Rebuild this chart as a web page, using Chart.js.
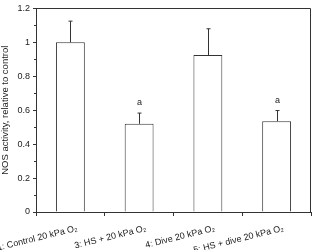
<!DOCTYPE html>
<html>
<head>
<meta charset="utf-8">
<script src="https://cdn.jsdelivr.net/npm/chart.js@4"></script>
<style>
  html, body { margin: 0; padding: 0; background: #fff; }
  #wrap { width: 312px; height: 250px; }
</style>
</head>
<body>
<div id="wrap"><canvas id="nos-chart"></canvas></div>
<script>
// groups along the x axis
const groups = ['1: Control 20 kPa O\u2082', '3: HS + 20 kPa O\u2082', '4: Dive 20 kPa O\u2082', '5: HS + dive 20 kPa O\u2082'];
// mean NOS activity relative to control
const nosMean = [1.0, 0.52, 0.925, 0.535];
// upper error (SD / SEM)
const nosErr = [0.125, 0.063, 0.155, 0.063];
// significance marks above bars
const sigMarks = ['', 'a', '', 'a'];
const yTicks = [0, 0.2, 0.4, 0.6, 0.8, 1, 1.2];

const lineCol = '#333';
const fontFam = '"Liberation Sans", Arial, sans-serif';

// error bars, letters, frame and minor ticks
const extras = {
    id: 'extras',
    afterDatasetsDraw(chart) {
        let ctx = chart.ctx;
        let y = chart.scales.y;
        let area = chart.chartArea;
        let meta = chart.getDatasetMeta(0);
        ctx.save();
        ctx.strokeStyle = lineCol;
        ctx.lineWidth = 1;
        meta.data.forEach((bar, i) => {
            let x = Math.round(bar.x) + 0.5;
            let y0 = y.getPixelForValue(nosMean[i]);
            let y1 = y.getPixelForValue(nosMean[i] + nosErr[i]);
            ctx.beginPath();
            ctx.moveTo(x, y0);
            ctx.lineTo(x, y1);
            ctx.moveTo(x - 2, y1);
            ctx.lineTo(x + 2, y1);
            ctx.stroke();
            if (sigMarks[i]) {
                ctx.fillStyle = '#222';
                ctx.font = '9px ' + fontFam;
                ctx.textAlign = 'center';
                ctx.textBaseline = 'bottom';
                ctx.fillText(sigMarks[i], x, y1 - 6);
            }
        });
        // top + right frame
        ctx.beginPath();
        ctx.moveTo(area.left, Math.round(area.top) + 0.5);
        ctx.lineTo(Math.round(area.right) - 0.5, Math.round(area.top) + 0.5);
        ctx.lineTo(Math.round(area.right) - 0.5, area.bottom);
        ctx.stroke();
        // minor ticks
        for (let v = 0.1; v < 1.2; v += 0.2) {
            let py = Math.round(y.getPixelForValue(v)) + 0.5;
            ctx.beginPath();
            ctx.moveTo(area.left - 2, py);
            ctx.lineTo(area.left, py);
            ctx.stroke();
        }
        ctx.restore();
    }
};

new Chart(document.getElementById('nos-chart'), {
    type: 'bar',
    data: {
        labels: groups,
        datasets: [{
            label: 'NOS activity',
            data: nosMean,
            backgroundColor: '#fff',
            borderColor: lineCol,
            borderWidth: 1,
            barPercentage: 0.42,
            categoryPercentage: 1.0
        }]
    },
    options: {
        responsive: true,
        maintainAspectRatio: false,
        animation: false,
        layout: { padding: { top: -2, right: 1, bottom: 0, left: 0 } },
        plugins: {
            legend: { display: false },
            tooltip: { enabled: false }
        },
        scales: {
            x: {
                offset: true,
                grid: { display: true, drawOnChartArea: false, offset: true, tickLength: 4, color: lineCol },
                border: { color: lineCol },
                ticks: {
                    color: '#222',
                    font: { size: 9, family: fontFam },
                    minRotation: 14,
                    maxRotation: 14,
                    padding: 7,
                    labelOffset: 7,
                    autoSkip: false
                },
                afterFit(scale) {
                    scale.paddingLeft = 0;
                    scale.paddingRight = 0;
                    scale.height = 38;
                }
            },
            y: {
                min: 0,
                max: 1.2,
                afterBuildTicks(scale) {
                    scale.ticks = yTicks.map(v => ({ value: v }));
                },
                grid: { display: true, drawOnChartArea: false, tickLength: 3, color: lineCol },
                border: { color: lineCol },
                ticks: {
                    color: '#222',
                    font: { size: 9, family: fontFam },
                    padding: 3,
                    callback: v => String(v)
                },
                title: {
                    display: true,
                    text: 'NOS activity, relative to control',
                    color: '#222',
                    font: { size: 9.5, family: fontFam },
                    padding: 0
                },
                afterFit(scale) {
                    scale.width = 36;
                }
            }
        }
    },
    plugins: [extras]
});
</script>
</body>
</html>
